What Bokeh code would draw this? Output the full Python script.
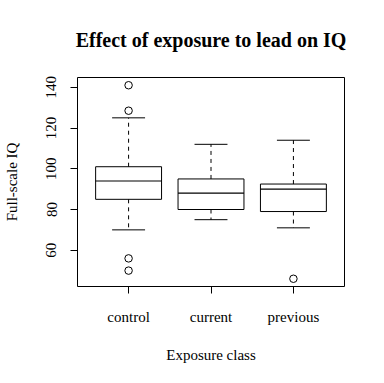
from bokeh.plotting import figure
from bokeh.models import FixedTicker, Range1d
from bokeh.embed import file_html
from bokeh.resources import INLINE

categories = ["control", "current", "previous"]
lower_whisker = [70, 75, 71]
q1 = [85, 80, 79]
median = [94, 88, 90]
q3 = [101, 95, 92.5]
upper_whisker = [125, 112, 114]
outlier_cat = ["control", "control", "control", "control", "previous"]
outlier_val = [141, 128.5, 56, 50, 46]
y_ticks = [60, 80, 100, 120, 140]

FONT = "Liberation Serif"

xs = [i + 1 for i in range(len(categories))]
ox = [categories.index(c) + 1 for c in outlier_cat]

p = figure(width=380, height=378, output_backend="svg", toolbar_location=None,
           x_range=Range1d(0.38, 3.62), y_range=Range1d(42.2, 144.8),
           min_border_left=77, min_border_right=36, min_border_top=77, min_border_bottom=92)
p.grid.visible = False
p.outline_line_color = "black"
p.outline_line_width = 1
p.background_fill_color = "white"
p.border_fill_color = "white"

# boxes
p.quad(left=[x - 0.4 for x in xs], right=[x + 0.4 for x in xs], bottom=q1, top=q3,
       fill_color=None, line_color="black", line_width=1)
p.segment(x0=[x - 0.4 for x in xs], x1=[x + 0.4 for x in xs], y0=median, y1=median,
          line_color="black", line_width=1.2)
# whiskers
p.segment(x0=xs, x1=xs, y0=q3, y1=upper_whisker, line_color="black", line_dash="4 4", line_width=1)
p.segment(x0=xs, x1=xs, y0=q1, y1=lower_whisker, line_color="black", line_dash="4 4", line_width=1)
# staples
p.segment(x0=[x - 0.2 for x in xs], x1=[x + 0.2 for x in xs], y0=upper_whisker, y1=upper_whisker,
          line_color="black", line_width=1)
p.segment(x0=[x - 0.2 for x in xs], x1=[x + 0.2 for x in xs], y0=lower_whisker, y1=lower_whisker,
          line_color="black", line_width=1)
# outliers
p.scatter(x=ox, y=outlier_val, marker="circle", size=7.5, fill_color=None, line_color="black", line_width=1)

# axes
p.xaxis.ticker = FixedTicker(ticks=xs)
p.xaxis.major_label_overrides = {x: c for x, c in zip(xs, categories)}
p.xaxis.bounds = (1, 3)
p.yaxis.ticker = FixedTicker(ticks=y_ticks)
p.yaxis.bounds = (60, 140)
p.yaxis.major_label_orientation = "vertical"
for ax in (p.xaxis, p.yaxis):
    ax.major_tick_out = 7
    ax.major_tick_in = 0
    ax.minor_tick_out = 0
    ax.minor_tick_in = 0
    ax.axis_line_color = "black"
    ax.major_tick_line_color = "black"
    ax.major_label_text_font = FONT
    ax.major_label_text_font_size = "15px"
    ax.major_label_text_color = "black"
    ax.axis_label_text_font = FONT
    ax.axis_label_text_font_size = "15px"
    ax.axis_label_text_font_style = "normal"
    ax.axis_label_text_color = "black"
p.xaxis.axis_label = "Exposure class"
p.yaxis.axis_label = "Full-scale IQ"
p.xaxis.major_label_standoff = 15
p.xaxis.axis_label_standoff = 19
p.yaxis.major_label_standoff = 14
p.yaxis.axis_label_standoff = 24

p.title.text = "Effect of exposure to lead on IQ"
p.title.align = "center"
p.title.text_font = FONT
p.title.text_font_size = "20px"
p.title.text_font_style = "bold"
p.title.text_color = "black"
p.title.standoff = 53

open("out.html", "w").write(file_html(p, INLINE))
